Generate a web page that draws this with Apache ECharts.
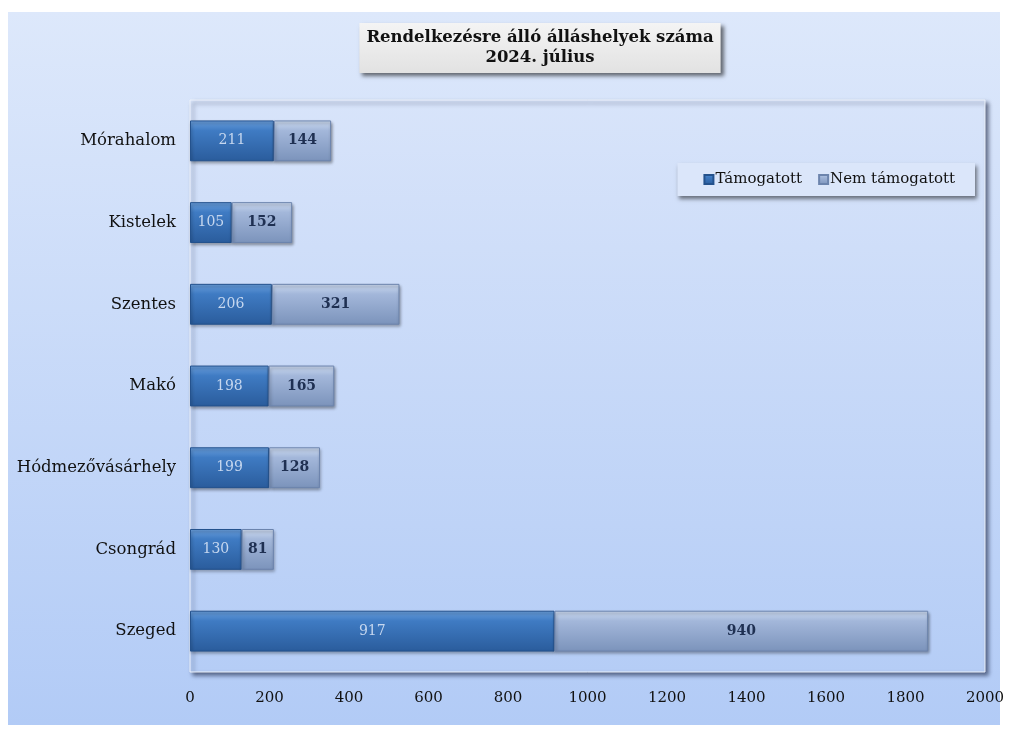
<!DOCTYPE html>
<html>
<head>
<meta charset="utf-8">
<script src="https://cdn.jsdelivr.net/npm/echarts@6/dist/echarts.min.js"></script>
<style>
html,body{margin:0;padding:0;background:#ffffff;width:1009px;height:733px;overflow:hidden;}
#bg{position:absolute;left:8px;top:12px;width:992px;height:713px;background:linear-gradient(to bottom,#dde8fb 0%,#b2cbf6 100%);}
#chart{position:absolute;left:0;top:0;width:1009px;height:733px;}
</style>
</head>
<body>
<div id="bg"></div>
<div id="chart"></div>
<script>
var categories = ['Szeged', 'Csongrád', 'Hódmezővásárhely', 'Makó', 'Szentes', 'Kistelek', 'Mórahalom'];
var supported = [917, 130, 199, 198, 206, 105, 211];
var unsupported = [940, 81, 128, 165, 321, 152, 144];
var seriesNames = ['Támogatott', 'Nem támogatott'];
var xTicks = [0, 200, 400, 600, 800, 1000, 1200, 1400, 1600, 1800, 2000];

var FONT = 'DejaVu Serif';
var chart = echarts.init(document.getElementById('chart'), null, {renderer: 'canvas'});

function grad(c1, c2, c3) {
  return new echarts.graphic.LinearGradient(0, 0, 0, 1, [
    {offset: 0, color: c1}, {offset: 0.25, color: c2}, {offset: 1, color: c3}
  ]);
}

var option = {
  backgroundColor: 'transparent',
  animation: false,
  title: {
    text: 'Rendelkezésre álló álláshelyek száma\n2024. július',
    left: 533,
    top: 23,
    textAlign: 'center',
    padding: [5, 7, 5, 7],
    backgroundColor: new echarts.graphic.LinearGradient(0, 0, 0, 1, [
      {offset: 0, color: '#f4f4f4'}, {offset: 1, color: '#e2e2e2'}
    ]),
    shadowColor: 'rgba(0,0,0,0.55)',
    shadowBlur: 4,
    shadowOffsetX: 3,
    shadowOffsetY: 3,
    textStyle: {
      fontFamily: FONT,
      fontWeight: 'bold',
      fontSize: 16.5,
      color: '#111111',
      lineHeight: 20,
      align: 'center'
    }
  },
  legend: {
    data: seriesNames,
    right: 34,
    top: 163,
    orient: 'horizontal',
    itemWidth: 9,
    itemHeight: 9,
    itemGap: 16,
    icon: 'rect',
    padding: [9, 20, 9, 26],
    backgroundColor: '#dbe6fa',
    shadowColor: 'rgba(0,0,0,0.5)',
    shadowBlur: 4,
    shadowOffsetX: 2,
    shadowOffsetY: 3,
    textStyle: {fontFamily: FONT, fontSize: 15, color: '#111111', padding: [0, 0, 0, -3]}
  },
  grid: {
    left: 190,
    right: 24,
    top: 100,
    bottom: 61,
    show: true,
    backgroundColor: new echarts.graphic.LinearGradient(0, 0, 0, 1, [
      {offset: 0, color: '#d8e4fa'}, {offset: 1, color: '#b5cdf6'}
    ]),
    borderColor: '#edf2fb',
    borderWidth: 1,
    shadowColor: 'rgba(20,30,60,0.6)',
    shadowBlur: 4,
    shadowOffsetX: 3,
    shadowOffsetY: 3,
    containLabel: false
  },
  xAxis: {
    type: 'value',
    min: 0,
    max: 2000,
    interval: 200,
    axisLine: {show: false},
    axisTick: {show: false},
    splitLine: {show: false},
    axisLabel: {
      fontFamily: FONT, fontSize: 15, color: '#111111', margin: 19,
      formatter: function (v) { return xTicks.indexOf(v) >= 0 ? String(v) : ''; }
    }
  },
  yAxis: {
    type: 'category',
    data: categories,
    axisLine: {show: false},
    axisTick: {show: false},
    splitLine: {show: false},
    axisLabel: {fontFamily: FONT, fontSize: 16.5, color: '#111111', margin: 14}
  },
  series: [
    {
      name: seriesNames[0],
      type: 'bar',
      stack: 'total',
      barWidth: '50%',
      data: supported,
      itemStyle: {
        color: grad('#6a9fdc', '#3f7bc3', '#2a5c9c'),
        borderColor: '#24528d',
        borderWidth: 1,
        shadowColor: 'rgba(0,0,0,0.35)',
        shadowBlur: 3,
        shadowOffsetX: 1,
        shadowOffsetY: 2
      },
      label: {
        show: true,
        position: 'inside',
        fontFamily: FONT,
        fontSize: 14,
        color: '#c6d7ef'
      }
    },
    {
      name: seriesNames[1],
      type: 'bar',
      stack: 'total',
      barWidth: '50%',
      data: unsupported,
      itemStyle: {
        color: grad('#ccdaf0', '#a3b7da', '#7b93bb'),
        borderColor: '#6c84ad',
        borderWidth: 1,
        shadowColor: 'rgba(0,0,0,0.35)',
        shadowBlur: 3,
        shadowOffsetX: 1,
        shadowOffsetY: 2
      },
      label: {
        show: true,
        position: 'inside',
        fontFamily: FONT,
        fontSize: 14,
        fontWeight: 'bold',
        color: '#1f3052'
      }
    }
  ]
};
chart.setOption(option);
</script>
</body>
</html>
